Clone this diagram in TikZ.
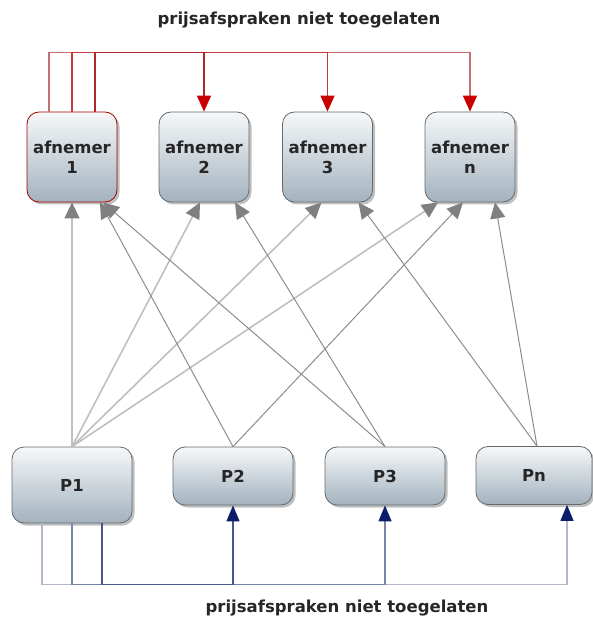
\documentclass[tikz,border=0pt]{standalone}
\usepackage{fontspec}
\setmainfont{DejaVu Sans}
\usetikzlibrary{arrows.meta,shadows}
\definecolor{boxtop}{RGB}{246,248,249}
\definecolor{boxbottom}{RGB}{163,178,190}
\definecolor{boxline}{RGB}{100,106,112}
\definecolor{agreered}{RGB}{200,0,0}
\definecolor{agreenavy}{RGB}{12,30,105}
\definecolor{tipgray}{RGB}{128,128,128}
\begin{document}
\begin{tikzpicture}[x=1pt,y=-1pt,
  txt/.style={font=\bfseries\fontsize{16.5}{20}\selectfont, text=black!85},
  party/.style={txt, draw=boxline, line width=0.8pt, rounded corners=12pt,
    top color=boxtop, bottom color=boxbottom, align=center, inner sep=0pt,
    drop shadow={shadow xshift=2.5pt, shadow yshift=-2.5pt, opacity=.5}},
  buyer/.style={party, minimum width=90pt, minimum height=90pt},
  seller/.style={party, minimum width=120pt, minimum height=58pt},
  link/.style={draw=gray!90, line width=1pt, -{Triangle[width=15pt,length=16pt,fill=tipgray,color=tipgray]}},
  feed/.style={link, draw=gray!50, line width=1.6pt},
  redlink/.style={line width=1.3pt, -{Triangle[width=14pt,length=16pt,fill=agreered,color=agreered]}},
  bluelink/.style={line width=1.3pt, -{Triangle[width=13pt,length=16pt,fill=agreenavy,color=agreenavy]}}]
\useasboundingbox (0,0) rectangle (592,620);

% afnemers
\node[buyer, draw=red!65!black] (a1) at (72,157) {afnemer\\1};
\node[buyer] (a2) at (204,157) {afnemer\\2};
\node[buyer] (a3) at (327.5,157) {afnemer\\3};
\node[buyer] (an) at (470,157) {afnemer\\n};

% producenten
\node[seller, minimum height=76pt] (p1) at (72,485) {P1};
\node[seller] (p2) at (233,476) {P2};
\node[seller] (p3) at (385,476) {P3};
\node[seller, minimum width=116pt] (pn) at (534,475.5) {Pn};

% leveringen
\draw[feed] (p1.north) -- (a1.south);
\draw[feed] (p1.north) -- ([xshift=-4pt]a2.south);
\draw[feed] (p1.north) -- ([xshift=-6pt]a3.south);
\draw[feed] (p1.north) -- ([xshift=-32pt]an.south);
\draw[link] (p2.north) -- ([xshift=28pt]a1.south);
\draw[link] (p2.north) -- ([xshift=-7pt]an.south);
\draw[link] (p3.north) -- ([xshift=31pt]a1.south);
\draw[link] (p3.north) -- ([xshift=31pt]a2.south);
\draw[link] ([xshift=3pt]pn.north) -- ([xshift=31pt]a3.south);
\draw[link] ([xshift=3pt]pn.north) -- ([xshift=25pt]an.south);

% afspraken tussen afnemers
\draw[redlink, draw=red!40!gray!80] ([xshift=-23pt]a1.north) -- ++(0,-59) -| (an.north);
\draw[redlink, draw=red!55!gray] (a1.north) -- ++(0,-59) -| (a3.north);
\draw[redlink, draw=red!65!black!85] ([xshift=23pt]a1.north) -- ++(0,-59) -| (a2.north);

% afspraken tussen producenten
\draw[bluelink, draw=gray!45!agreenavy!40] ([xshift=-30pt]p1.south) -- ++(0,61) -| ([xshift=33pt]pn.south);
\draw[bluelink, draw=agreenavy!55] (p1.south) -- ++(0,61) -| (p3.south);
\draw[bluelink, draw=agreenavy!75] ([xshift=30pt]p1.south) -- ++(0,61) -| (p2.south);

\node[txt] (top) at (299,20) {prijsafspraken niet toegelaten};
\node[txt] (bottom) at (347,608) {prijsafspraken niet toegelaten};
\end{tikzpicture}
\end{document}
